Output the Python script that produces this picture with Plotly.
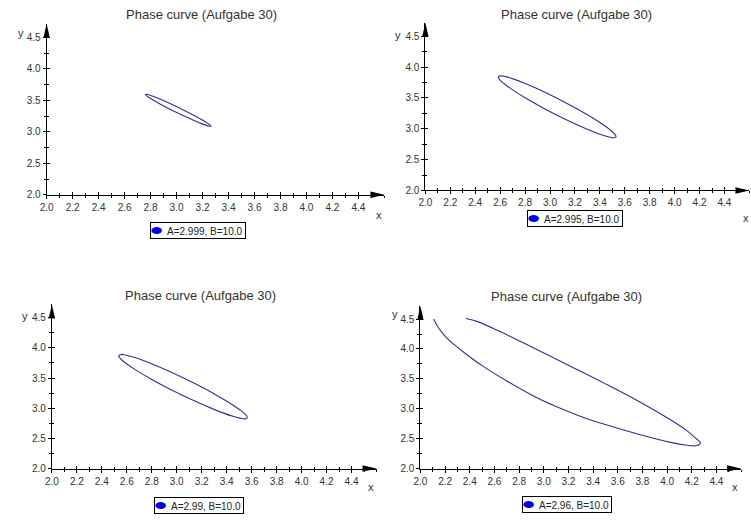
import plotly.graph_objects as go

W, H = 751, 523

TITLE = "Phase curve (Aufgabe 30)"
X_TICKS = [2.0, 2.2, 2.4, 2.6, 2.8, 3.0, 3.2, 3.4, 3.6, 3.8, 4.0, 4.2, 4.4]
Y_TICKS = [2.0, 2.5, 3.0, 3.5, 4.0, 4.5]
X_TICK_LABELS = ["2.0", "2.2", "2.4", "2.6", "2.8", "3.0", "3.2", "3.4", "3.6", "3.8", "4.0", "4.2", "4.4"]
Y_TICK_LABELS = ["2.0", "2.5", "3.0", "3.5", "4.0", "4.5"]
A_VALUES = ["2.999", "2.995", "2.99", "2.96"]
B_VALUE = "10.0"

# phase curves (x, y) for each A
curve1_x = [2.760, 2.768, 2.785, 2.823, 2.886, 2.962, 3.063, 3.139, 3.202, 3.240, 3.257, 3.265,
            3.257, 3.240, 3.202, 3.139, 3.063, 2.962, 2.886, 2.823, 2.785, 2.768, 2.760]
curve1_y = [3.595, 3.599, 3.590, 3.562, 3.509, 3.438, 3.337, 3.256, 3.184, 3.135, 3.109, 3.090,
            3.086, 3.095, 3.123, 3.177, 3.247, 3.348, 3.429, 3.502, 3.550, 3.576, 3.595]

curve2_x = [2.585, 2.599, 2.632, 2.703, 2.821, 2.963, 3.152, 3.294, 3.412, 3.483, 3.516, 3.530,
            3.516, 3.483, 3.412, 3.294, 3.152, 2.963, 2.821, 2.703, 2.632, 2.599, 2.585]
curve2_y = [3.839, 3.858, 3.851, 3.810, 3.717, 3.588, 3.395, 3.235, 3.086, 2.983, 2.922, 2.874,
            2.855, 2.862, 2.903, 2.996, 3.125, 3.318, 3.478, 3.627, 3.731, 3.791, 3.839]

curve3_x = [2.535, 2.551, 2.587, 2.664, 2.793, 2.947, 3.153, 3.308, 3.436, 3.514, 3.550, 3.565,
            3.550, 3.514, 3.436, 3.308, 3.153, 2.947, 2.793, 2.664, 2.587, 2.551, 2.535]
curve3_y = [3.870, 3.891, 3.883, 3.840, 3.742, 3.605, 3.400, 3.229, 3.071, 2.961, 2.896, 2.845,
            2.824, 2.832, 2.875, 2.973, 3.110, 3.315, 3.486, 3.644, 3.754, 3.819, 3.870]

curve4_x = [2.107, 2.142, 2.195, 2.262, 2.356, 2.503, 2.704, 2.904, 3.105, 3.306, 3.493, 3.761,
            4.028, 4.162, 4.229, 4.264, 4.269, 4.242, 4.162, 4.028, 3.761, 3.493, 3.252, 3.038,
            2.838, 2.637, 2.463, 2.369]
curve4_y = [4.500, 4.368, 4.225, 4.093, 3.938, 3.718, 3.461, 3.228, 3.033, 2.868, 2.740, 2.578,
            2.438, 2.390, 2.381, 2.405, 2.440, 2.490, 2.630, 2.815, 3.135, 3.425, 3.675, 3.895,
            4.100, 4.300, 4.458, 4.510]

CURVES = [(curve1_x, curve1_y), (curve2_x, curve2_y), (curve3_x, curve3_y), (curve4_x, curve4_y)]

X_RANGE = [2.0, 4.6]
Y_RANGE = [2.0, 4.72]

# pixel frame of each panel: axis origin, arrow tips and text anchors
PANELS = [
    dict(left=40.0, right=381.0, bottom=197.0, top=24.0,
         title=(196, 15), ylab=(14, 33), xlab=(375, 217), key=(193, 233)),
    dict(left=422.3, right=749.4, bottom=192.7, top=23.0,
         title=(575, 15), ylab=(395, 35), xlab=(746, 221), key=(573, 221)),
    dict(left=45.3, right=373.0, bottom=474.0, top=308.0,
         title=(195, 299), ylab=(18, 320), xlab=(367, 493), key=(194, 511)),
    dict(left=417.3, right=741.0, bottom=474.0, top=309.5,
         title=(565, 300), ylab=(392, 318), xlab=(735, 493), key=(565, 510)),
]

CURVE_COLOR = "#30309a"
KEY_COLOR = "#0000e6"
TEXT_COLOR = "#333333"
FONT = "Liberation Sans, Arial, sans-serif"


def px(x):
    return x / W


def py(y):
    return 1 - y / H


fig = go.Figure()
annotations = []
shapes = []
n_panels = len(PANELS)

for i, (panel, (cx, cy), a_val) in enumerate(zip(PANELS, CURVES, A_VALUES)):
    n = "" if i == 0 else str(i + 1)
    m = str(i + 1 + n_panels)  # overlay axes carrying the inner half of each tick
    xname, yname = "x" + n, "y" + n
    xo, yo = "x" + m, "y" + m

    fig.add_trace(go.Scatter(
        x=cx, y=cy, mode="lines", name=f"A={a_val}, B={B_VALUE}",
        line=dict(color=CURVE_COLOR, width=1.1, shape="spline", smoothing=1.0),
        xaxis=xname, yaxis=yname, showlegend=False, hoverinfo="skip",
    ))
    fig.add_trace(go.Scatter(x=[], y=[], xaxis=xo, yaxis=yo, showlegend=False,
                             hoverinfo="skip"))

    xdom = [px(panel["left"]), px(panel["right"])]
    ydom = [py(panel["bottom"]), py(panel["top"])]

    def axis_style(side, minor_dtick):
        return dict(
            showgrid=False, zeroline=False, fixedrange=True,
            ticks=side, ticklen=3, tickwidth=1, tickcolor="black",
            minor=dict(ticks=side, ticklen=2, tickwidth=1, tickcolor="black",
                       dtick=minor_dtick),
        )

    fig.update_layout({
        ("xaxis" + n): dict(
            axis_style("outside", 0.1), domain=xdom, range=X_RANGE, anchor=yname,
            showline=True, linecolor="black", linewidth=1,
            tickvals=X_TICKS, ticktext=X_TICK_LABELS,
            tickfont=dict(family=FONT, size=10, color=TEXT_COLOR),
        ),
        ("yaxis" + n): dict(
            axis_style("outside", 0.25), domain=ydom, range=Y_RANGE, anchor=xname,
            showline=True, linecolor="black", linewidth=1,
            tickvals=Y_TICKS, ticktext=Y_TICK_LABELS,
            tickfont=dict(family=FONT, size=10, color=TEXT_COLOR),
        ),
        ("xaxis" + m): dict(
            axis_style("inside", 0.1), domain=xdom, range=X_RANGE, anchor=yo,
            overlaying=xname, showline=False, showticklabels=False, tickvals=X_TICKS,
        ),
        ("yaxis" + m): dict(
            axis_style("inside", 0.25), domain=ydom, range=Y_RANGE, anchor=xo,
            overlaying=yname, showline=False, showticklabels=False, tickvals=Y_TICKS,
        ),
    })

    # arrow heads at the axis ends
    shapes.append(dict(
        type="path", xref=xname + " domain", yref=yname + " domain",
        xsizemode="pixel", xanchor=1, ysizemode="pixel", yanchor=0,
        path="M0,0 L-14,3.2 L-14,-3.2 Z", fillcolor="black", line=dict(width=0),
    ))
    shapes.append(dict(
        type="path", xref=xname + " domain", yref=yname + " domain",
        xsizemode="pixel", xanchor=0, ysizemode="pixel", yanchor=1,
        path="M0,0 L-3.2,-14 L3.2,-14 Z", fillcolor="black", line=dict(width=0),
    ))

    annotations.append(dict(
        x=px(panel["title"][0]), y=py(panel["title"][1]), xref="paper", yref="paper",
        text=TITLE, showarrow=False, xanchor="center", yanchor="middle",
        font=dict(family=FONT, size=13, color=TEXT_COLOR),
    ))
    annotations.append(dict(
        x=px(panel["ylab"][0]), y=py(panel["ylab"][1]), xref="paper", yref="paper",
        text="y", showarrow=False, xanchor="center", yanchor="middle",
        font=dict(family=FONT, size=11, color=TEXT_COLOR),
    ))
    annotations.append(dict(
        x=px(panel["xlab"][0]), y=py(panel["xlab"][1]), xref="paper", yref="paper",
        text="x", showarrow=False, xanchor="center", yanchor="middle",
        font=dict(family=FONT, size=11, color=TEXT_COLOR),
    ))
    annotations.append(dict(
        x=px(panel["key"][0]), y=py(panel["key"][1]), xref="paper", yref="paper",
        text=(f'<span style="color:{KEY_COLOR};font-size:13px">⬬</span>'
              f'  A={a_val}, B={B_VALUE} '),
        showarrow=False, xanchor="center", yanchor="middle",
        font=dict(family=FONT, size=10, color="#222222"),
        bordercolor="black", borderwidth=1, borderpad=0, bgcolor="white",
    ))

fig.update_layout(
    width=W, height=H,
    margin=dict(l=0, r=0, t=0, b=0),
    paper_bgcolor="white", plot_bgcolor="white",
    showlegend=False,
    annotations=annotations,
    shapes=shapes,
)

fig.write_html("out.html")
